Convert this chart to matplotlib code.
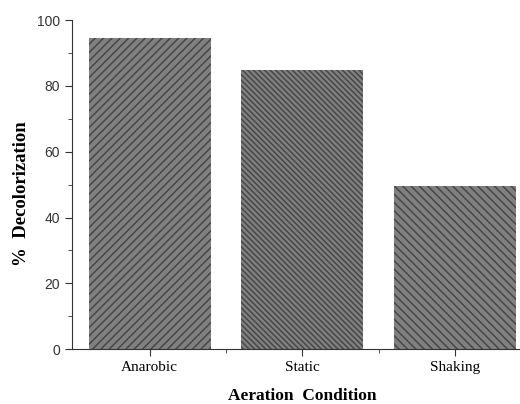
import matplotlib.pyplot as plt
from matplotlib.ticker import MultipleLocator, FixedLocator

# % decolorization under each aeration condition
conditions = ["Anarobic", "Static", "Shaking"]
decolorization = [94.5, 84.8, 49.5]
hatches = ["////", "\\\\\\\\\\\\", "\\\\\\\\"]

plt.rcParams['hatch.linewidth'] = 1.1

W, H = 520, 404
fig = plt.figure(figsize=(W / 100, H / 100), dpi=100)
ax = fig.add_axes([0.1385, 0.136, 0.883, 0.814])

x = range(len(conditions))
bars = ax.bar(x, decolorization, width=0.8, color='#808080', edgecolor='#474747', linewidth=0)
for b, h in zip(bars, hatches):
    b.set_hatch(h)

ax.set_xlim(-0.51, 2.5)
ax.set_ylim(0, 100)

ax.spines['top'].set_visible(False)
ax.spines['right'].set_visible(False)
ax.spines['left'].set_color('#333333')
ax.spines['bottom'].set_color('#333333')

ax.yaxis.set_major_locator(MultipleLocator(20))
ax.yaxis.set_minor_locator(MultipleLocator(10))
ax.set_xticks(list(x))
ax.set_xticklabels(conditions, family='Liberation Serif', fontsize=11)
ax.xaxis.set_minor_locator(FixedLocator([0.5, 1.5]))
ax.tick_params(axis='both', which='major', direction='out', length=5, color='#333333')
ax.tick_params(axis='both', which='minor', direction='out', length=3, color='#333333')
for lbl in ax.get_yticklabels():
    lbl.set_family('Liberation Sans')
    lbl.set_fontsize(10)
    lbl.set_color('#333333')

# axis titles
fig.text(302 / W, 1 - 396 / H, "Aeration  Condition", family='Liberation Serif',
         fontweight='bold', fontsize=12.5, ha='center', va='center')
fig.text(22 / W, 1 - 194 / H, "%  Decolorization", family='Liberation Serif',
         fontweight='bold', fontsize=13.5, ha='center', va='center', rotation=90)

fig.savefig("out.png", dpi=100)
